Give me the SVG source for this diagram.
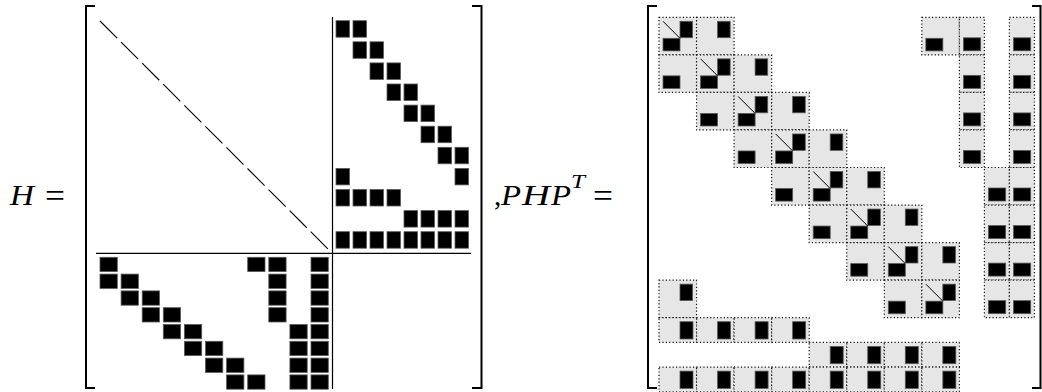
<svg xmlns="http://www.w3.org/2000/svg" xmlns:xlink="http://www.w3.org/1999/xlink" width="1042" height="392" viewBox="0 0 1042 392">
<style>
.t{font-family:"Liberation Serif","Times New Roman",serif;fill:#000}
.i{font-style:italic}
.br{fill:none;stroke:#000;stroke-width:2}
.ln{stroke:#000;stroke-width:1.2;fill:none}
.blk{fill:#000;stroke:#5a5a5a;stroke-width:0.8}
.cell{fill:#e6e6e6;stroke:#111;stroke-width:1.2;stroke-dasharray:1.2 2.2}
.dg{stroke:#000;stroke-width:1}
</style>
<defs>
<rect id="hb" class="blk" width="13.5" height="16.5"/>
<rect id="lb" class="blk" width="17.3" height="14.3"/>
<g id="cD"><rect class="cell" width="37.55" height="37.55"/><rect class="blk" x="21" y="4" width="12.6" height="16.4"/><rect class="blk" x="4" y="21" width="17" height="12.6"/><line class="dg" x1="4" y1="4" x2="21" y2="21"/></g>
<g id="cTR"><rect class="cell" width="37.55" height="37.55"/><rect class="blk" x="21" y="4" width="12.6" height="16.4"/></g>
<g id="cBL"><rect class="cell" width="37.55" height="37.55"/><rect class="blk" x="4" y="21" width="17" height="12.6"/></g>
<g id="cNB"><rect class="cell" width="25" height="37.55"/><rect class="blk" x="4" y="20.5" width="17.3" height="13"/></g>
<g id="cNR"><rect class="cell" width="37.55" height="24.7"/><rect class="blk" x="21" y="4" width="13" height="17.3"/></g>
</defs>

<g id="label-H">
<text class="t i" x="10" y="205" font-size="29" textLength="24" lengthAdjust="spacingAndGlyphs">H</text>
<text class="t" x="45" y="206.5" font-size="34" textLength="20" lengthAdjust="spacingAndGlyphs">=</text>
</g>

<g id="matrix-H">
<path class="br" d="M95,6 H86 V388 H95"/>
<path class="br" d="M472,6 H481.5 V388 H472"/>
<line class="ln" x1="332.5" y1="17" x2="332.5" y2="389"/>
<line class="ln" x1="96" y1="253.3" x2="471" y2="253.3"/>
<line x1="100" y1="21" x2="328.1" y2="249.1" stroke="#000" stroke-width="1.1" stroke-dasharray="24.2 5.6"/>
<g id="H-upper-right">
<use href="#hb" x="336" y="20.7"/><use href="#hb" x="353" y="20.7"/>
<use href="#hb" x="353" y="41.8"/><use href="#hb" x="370" y="41.8"/>
<use href="#hb" x="370" y="62.9"/><use href="#hb" x="387" y="62.9"/>
<use href="#hb" x="387" y="84"/><use href="#hb" x="404" y="84"/>
<use href="#hb" x="404" y="105.1"/><use href="#hb" x="421" y="105.1"/>
<use href="#hb" x="421" y="126.2"/><use href="#hb" x="438" y="126.2"/>
<use href="#hb" x="438" y="147.3"/><use href="#hb" x="455" y="147.3"/>
<use href="#hb" x="336" y="168.4"/><use href="#hb" x="455" y="168.4"/>
<use href="#hb" x="336" y="189.5"/><use href="#hb" x="353" y="189.5"/><use href="#hb" x="370" y="189.5"/><use href="#hb" x="387" y="189.5"/>
<use href="#hb" x="404" y="210.6"/><use href="#hb" x="421" y="210.6"/><use href="#hb" x="438" y="210.6"/><use href="#hb" x="455" y="210.6"/>
<use href="#hb" x="336" y="231.7"/><use href="#hb" x="353" y="231.7"/><use href="#hb" x="370" y="231.7"/><use href="#hb" x="387" y="231.7"/><use href="#hb" x="404" y="231.7"/><use href="#hb" x="421" y="231.7"/><use href="#hb" x="438" y="231.7"/><use href="#hb" x="455" y="231.7"/>
</g>
<g id="H-lower-left">
<use href="#lb" x="100" y="257.3"/><use href="#lb" x="247.7" y="257.3"/><use href="#lb" x="268.8" y="257.3"/><use href="#lb" x="311" y="257.3"/>
<use href="#lb" x="100" y="274.1"/><use href="#lb" x="121.1" y="274.1"/><use href="#lb" x="268.8" y="274.1"/><use href="#lb" x="311" y="274.1"/>
<use href="#lb" x="121.1" y="290.9"/><use href="#lb" x="142.2" y="290.9"/><use href="#lb" x="268.8" y="290.9"/><use href="#lb" x="311" y="290.9"/>
<use href="#lb" x="142.2" y="307.7"/><use href="#lb" x="163.3" y="307.7"/><use href="#lb" x="268.8" y="307.7"/><use href="#lb" x="311" y="307.7"/>
<use href="#lb" x="163.3" y="324.5"/><use href="#lb" x="184.4" y="324.5"/><use href="#lb" x="289.9" y="324.5"/><use href="#lb" x="311" y="324.5"/>
<use href="#lb" x="184.4" y="341.3"/><use href="#lb" x="205.5" y="341.3"/><use href="#lb" x="289.9" y="341.3"/><use href="#lb" x="311" y="341.3"/>
<use href="#lb" x="205.5" y="358.1"/><use href="#lb" x="226.6" y="358.1"/><use href="#lb" x="289.9" y="358.1"/><use href="#lb" x="311" y="358.1"/>
<use href="#lb" x="226.6" y="374.9"/><use href="#lb" x="247.7" y="374.9"/><use href="#lb" x="289.9" y="374.9"/><use href="#lb" x="311" y="374.9"/>
</g>
</g>

<g id="label-PHPT">
<text class="t" x="494" y="205" font-size="29">,</text>
<text class="t i" x="501" y="205" font-size="29" textLength="20" lengthAdjust="spacingAndGlyphs">P</text>
<text class="t i" x="522" y="205" font-size="29" textLength="28" lengthAdjust="spacingAndGlyphs">H</text>
<text class="t i" x="551" y="205" font-size="29" textLength="20" lengthAdjust="spacingAndGlyphs">P</text>
<text class="t i" x="571" y="188" font-size="18" textLength="14" lengthAdjust="spacingAndGlyphs">T</text>
<text class="t" x="593" y="206.5" font-size="34" textLength="20" lengthAdjust="spacingAndGlyphs">=</text>
</g>

<g id="matrix-PHPT">
<path class="br" d="M657,6 H648 V388 H657"/>
<path class="br" d="M1032,6 H1040.5 V388 H1032"/>
<g id="row1"><use href="#cD" x="659" y="17.3"/><use href="#cTR" x="696.55" y="17.3"/><use href="#cBL" x="921.85" y="17.3"/><use href="#cNB" x="959.4" y="17.3"/><use href="#cNB" x="1009.4" y="17.3"/></g>
<g id="row2"><use href="#cBL" x="659" y="54.85"/><use href="#cD" x="696.55" y="54.85"/><use href="#cTR" x="734.1" y="54.85"/><use href="#cNB" x="959.4" y="54.85"/><use href="#cNB" x="1009.4" y="54.85"/></g>
<g id="row3"><use href="#cBL" x="696.55" y="92.4"/><use href="#cD" x="734.1" y="92.4"/><use href="#cTR" x="771.65" y="92.4"/><use href="#cNB" x="959.4" y="92.4"/><use href="#cNB" x="1009.4" y="92.4"/></g>
<g id="row4"><use href="#cBL" x="734.1" y="129.95"/><use href="#cD" x="771.65" y="129.95"/><use href="#cTR" x="809.2" y="129.95"/><use href="#cNB" x="959.4" y="129.95"/><use href="#cNB" x="1009.4" y="129.95"/></g>
<g id="row5"><use href="#cBL" x="771.65" y="167.5"/><use href="#cD" x="809.2" y="167.5"/><use href="#cTR" x="846.75" y="167.5"/><use href="#cNB" x="984.4" y="167.5"/><use href="#cNB" x="1009.4" y="167.5"/></g>
<g id="row6"><use href="#cBL" x="809.2" y="205.05"/><use href="#cD" x="846.75" y="205.05"/><use href="#cTR" x="884.3" y="205.05"/><use href="#cNB" x="984.4" y="205.05"/><use href="#cNB" x="1009.4" y="205.05"/></g>
<g id="row7"><use href="#cBL" x="846.75" y="242.6"/><use href="#cD" x="884.3" y="242.6"/><use href="#cTR" x="921.85" y="242.6"/><use href="#cNB" x="984.4" y="242.6"/><use href="#cNB" x="1009.4" y="242.6"/></g>
<g id="row8"><use href="#cTR" x="659" y="280.15"/><use href="#cBL" x="884.3" y="280.15"/><use href="#cD" x="921.85" y="280.15"/><use href="#cNB" x="984.4" y="280.15"/><use href="#cNB" x="1009.4" y="280.15"/></g>
<g id="row9"><use href="#cNR" x="659" y="317.7"/><use href="#cNR" x="696.55" y="317.7"/><use href="#cNR" x="734.1" y="317.7"/><use href="#cNR" x="771.65" y="317.7"/></g>
<g id="row10"><use href="#cNR" x="809.2" y="342.4"/><use href="#cNR" x="846.75" y="342.4"/><use href="#cNR" x="884.3" y="342.4"/><use href="#cNR" x="921.85" y="342.4"/></g>
<g id="row11"><use href="#cNR" x="659" y="367.1"/><use href="#cNR" x="696.55" y="367.1"/><use href="#cNR" x="734.1" y="367.1"/><use href="#cNR" x="771.65" y="367.1"/><use href="#cNR" x="809.2" y="367.1"/><use href="#cNR" x="846.75" y="367.1"/><use href="#cNR" x="884.3" y="367.1"/><use href="#cNR" x="921.85" y="367.1"/></g>
</g>
</svg>
